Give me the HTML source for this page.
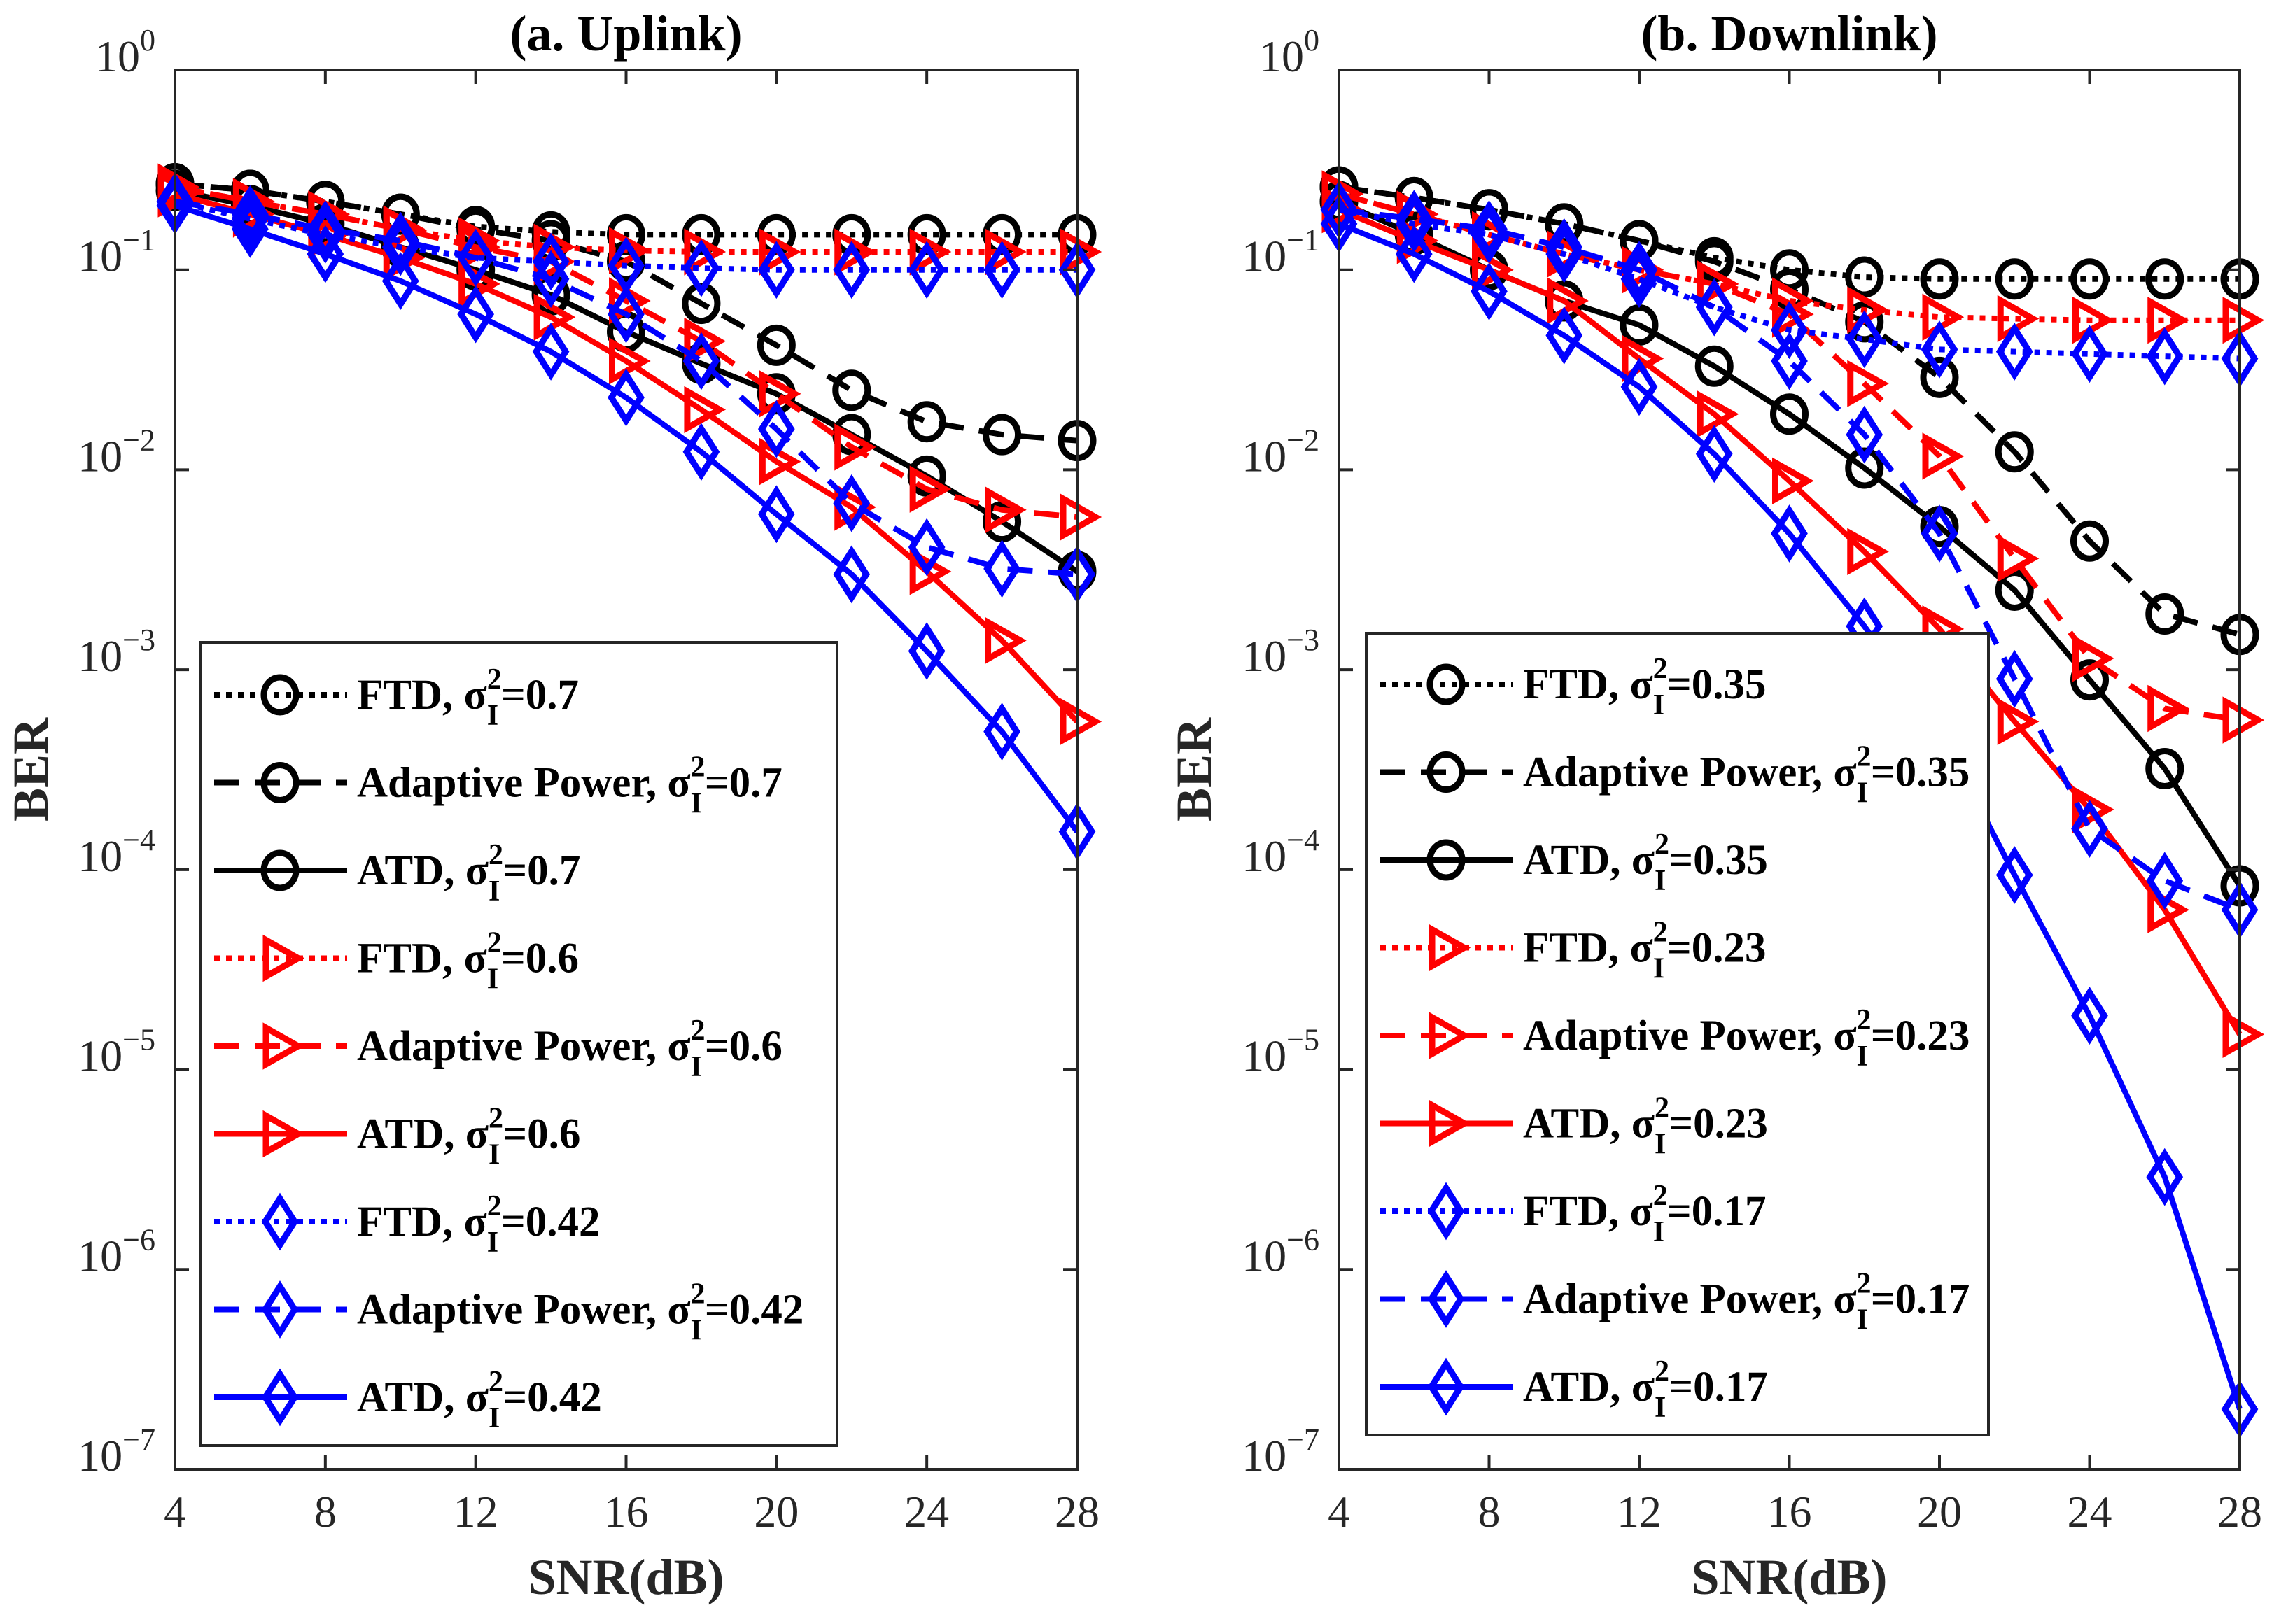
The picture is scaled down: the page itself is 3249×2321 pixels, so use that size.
<!DOCTYPE html>
<html><head><meta charset="utf-8"><style>
html,body{margin:0;padding:0;background:#fff}
svg{display:block}
text{font-family:"Liberation Serif",serif}
</style></head><body>
<svg id="chart" width="3249" height="2321" viewBox="0 0 3249 2321" xmlns="http://www.w3.org/2000/svg"></svg>
<script>
const snr = [4,6,8,10,12,14,16,18,20,22,24,26,28];
const xTicks = [4,8,12,16,20,24,28];
const yExps = [0,-1,-2,-3,-4,-5,-6,-7];
// Uplink
const upFTD07 = [0.27,0.25,0.22,0.19,0.165,0.155,0.15,0.15,0.15,0.15,0.15,0.15,0.15];
const upAP07  = [0.27,0.25,0.22,0.19,0.16,0.14,0.11,0.068,0.042,0.025,0.0174,0.015,0.014];
const upATD07 = [0.25,0.21,0.17,0.13,0.10,0.075,0.049,0.034,0.024,0.015,0.0093,0.0055,0.0031];
const upFTD06 = [0.26,0.22,0.19,0.16,0.14,0.13,0.125,0.123,0.123,0.123,0.123,0.123,0.123];
const upAP06  = [0.26,0.22,0.19,0.16,0.13,0.11,0.07,0.044,0.024,0.013,0.008,0.0063,0.0058];
const upATD06 = [0.24,0.19,0.15,0.115,0.085,0.058,0.035,0.02,0.011,0.0065,0.0031,0.0014,0.00055];
const upFTD042 = [0.22,0.18,0.15,0.13,0.115,0.11,0.105,0.102,0.1,0.1,0.1,0.1,0.1];
const upAP042  = [0.22,0.19,0.16,0.14,0.115,0.09,0.06,0.035,0.016,0.0068,0.0041,0.0032,0.003];
const upATD042 = [0.21,0.16,0.12,0.088,0.06,0.039,0.023,0.0123,0.006,0.003,0.00124,0.00049,0.000155];
// Downlink
const dnFTD035 = [0.26,0.23,0.2,0.17,0.14,0.115,0.1,0.092,0.09,0.09,0.09,0.09,0.09];
const dnAP035  = [0.26,0.23,0.2,0.17,0.14,0.11,0.08,0.055,0.029,0.0123,0.0044,0.0019,0.0015];
const dnATD035 = [0.22,0.15,0.1,0.07,0.053,0.033,0.019,0.0102,0.0052,0.0025,0.00089,0.00032,0.000083];
const dnFTD023 = [0.24,0.19,0.15,0.12,0.1,0.085,0.07,0.063,0.058,0.057,0.056,0.056,0.056];
const dnAP023  = [0.24,0.19,0.15,0.12,0.1,0.085,0.06,0.027,0.0117,0.0036,0.00114,0.00064,0.00056];
const dnATD023 = [0.2,0.14,0.1,0.07,0.036,0.019,0.0088,0.0039,0.0016,0.00055,0.0002,0.000063,0.000015];
const dnFTD017 = [0.2,0.17,0.15,0.12,0.09,0.065,0.05,0.045,0.04,0.039,0.038,0.037,0.036];
const dnAP017  = [0.2,0.18,0.16,0.13,0.1,0.065,0.035,0.015,0.0048,0.0009,0.00016,0.000088,0.000063];
const dnATD017 = [0.17,0.12,0.078,0.047,0.026,0.012,0.0048,0.00165,0.0005,0.000094,0.0000186,0.0000029,0.0000002];
const upLabels = ["0.7","0.7","0.7","0.6","0.6","0.6","0.42","0.42","0.42"];
const dnLabels = ["0.35","0.35","0.35","0.23","0.23","0.23","0.17","0.17","0.17"];
const methods = ["FTD","Adaptive Power","ATD","FTD","Adaptive Power","ATD","FTD","Adaptive Power","ATD"];

const NS="http://www.w3.org/2000/svg";
const svg=document.getElementById('chart');
function mk(tag,attrs,parent){const e=document.createElementNS(NS,tag);for(const k in attrs)e.setAttribute(k,attrs[k]);(parent||svg).appendChild(e);return e;}
const colors=["#000","#000","#000","#f00","#f00","#f00","#00f","#00f","#00f"];
const dashes=["8 9","36 22","none","8 9","36 22","none","8 9","36 22","none"];
const markers=["circle","circle","circle","tri","tri","tri","dia","dia","dia"];

function drawMarker(g,type,x,y,c){
  let m;
  if(type==="circle") m=mk('ellipse',{cx:x,cy:y,rx:23,ry:25,fill:'none',stroke:c,'stroke-width':9},g);
  else if(type==="tri") m=mk('polygon',{points:`${x-20},${y-26} ${x+26},${y} ${x-20},${y+26}`,fill:'none',stroke:c,'stroke-width':9},g);
  else m=mk('polygon',{points:`${x},${y-33} ${x+21},${y} ${x},${y+33} ${x-21},${y}`,fill:'none',stroke:c,'stroke-width':9},g);
  
  
}

function panel(cfg){
  const {L,R,T,B,title,series,labels,legX,legY,legW,legH,legFirst,name,ylabX,tickLabX}=cfg;
  const g=mk('g',{});
  
  
  const xs=v=>L+(v-4)/24*(R-L);
  const ys=v=>T+(-Math.log10(v))/7*(B-T);
  const sg=mk('g',{},g);
  
  
  series.forEach((arr,i)=>{
    const pts=arr.map((v,j)=>xs(snr[j]).toFixed(1)+','+ys(v).toFixed(1)).join(' ');
    const pl=mk('polyline',{points:pts,fill:'none',stroke:colors[i],'stroke-width':8,'stroke-dasharray':dashes[i],'stroke-linejoin':'round'},sg);
    
    
    arr.forEach((v,j)=>drawMarker(sg,markers[i],xs(snr[j]),ys(v),colors[i]));
  });
  const box=mk('rect',{x:L,y:T,width:R-L,height:B-T,fill:'none',stroke:'#262626','stroke-width':4},g);
  
  
  xTicks.forEach(t=>{
    const x=xs(t);
    mk('line',{x1:x,y1:B,x2:x,y2:B-20,stroke:'#262626','stroke-width':4},g);
    mk('line',{x1:x,y1:T,x2:x,y2:T+20,stroke:'#262626','stroke-width':4},g);
    const tx=mk('text',{x:x,y:2182,'font-size':64,'text-anchor':'middle',fill:'#262626'},g);
    tx.textContent=t;
    
    
  });
  yExps.forEach(e=>{
    const y=ys(Math.pow(10,e));
    mk('line',{x1:L,y1:y,x2:L+20,y2:y,stroke:'#262626','stroke-width':4},g);
    mk('line',{x1:R,y1:y,x2:R-20,y2:y,stroke:'#262626','stroke-width':4},g);
    const tx=mk('text',{x:tickLabX,y:y+2,'font-size':64,'text-anchor':'end',fill:'#262626'},g);
    
    
    tx.innerHTML=`10<tspan dy="-30" font-size="44">${e===0?'0':'\u2212'+(-e)}</tspan>`;
  });
  const tt=mk('text',{x:(L+R)/2,y:72,'font-size':72,'font-weight':'bold','text-anchor':'middle'},g);
  tt.textContent=title;
  
  
  const xl=mk('text',{x:(L+R)/2,y:2278,'font-size':72,'font-weight':'bold','text-anchor':'middle',fill:'#262626'},g);
  xl.textContent='SNR(dB)';
  
  
  const yl=mk('text',{x:ylabX,y:(T+B)/2,'font-size':72,'font-weight':'bold','text-anchor':'middle',fill:'#262626',transform:`rotate(-90 ${ylabX} ${(T+B)/2})`},g);
  yl.textContent='BER';
  
  
  const lg=mk('g',{},g);
  
  
  const lr=mk('rect',{x:legX,y:legY,width:legW,height:legH,fill:'#fff',stroke:'#262626','stroke-width':4},lg);
  
  
  for(let i=0;i<9;i++){
    const y=legFirst+i*125.5;
    const le=mk('g',{},lg);
    
    
    mk('line',{x1:legX+20,y1:y,x2:legX+210,y2:y,stroke:colors[i],'stroke-width':8,'stroke-dasharray':dashes[i]},le);
    drawMarker(le,markers[i],legX+114,y,colors[i]);
    const t=mk('text',{x:legX+224,y:y+20,'font-size':61,'font-weight':'bold',fill:'#000'},le);
    t.innerHTML=`${methods[i]}, σ<tspan dy="-29" font-size="42">2</tspan><tspan dx="-21" dy="52" font-size="42">I</tspan><tspan dx="4" dy="-23">=${labels[i]}</tspan>`;
  }
}

panel({name:'uplink-panel',L:250,R:1539,T:100,B:2100,title:'(a. Uplink)',
  series:[upFTD07,upAP07,upATD07,upFTD06,upAP06,upATD06,upFTD042,upAP042,upATD042],
  labels:upLabels,legX:286,legY:918,legW:910,legH:1148,legFirst:993,ylabX:68,tickLabX:222});
panel({name:'downlink-panel',L:1913,R:3200,T:100,B:2100,title:'(b. Downlink)',
  series:[dnFTD035,dnAP035,dnATD035,dnFTD023,dnAP023,dnATD023,dnFTD017,dnAP017,dnATD017],
  labels:dnLabels,legX:1952,legY:905,legW:889,legH:1146,legFirst:978,ylabX:1730,tickLabX:1885});
</script>
</body></html>
